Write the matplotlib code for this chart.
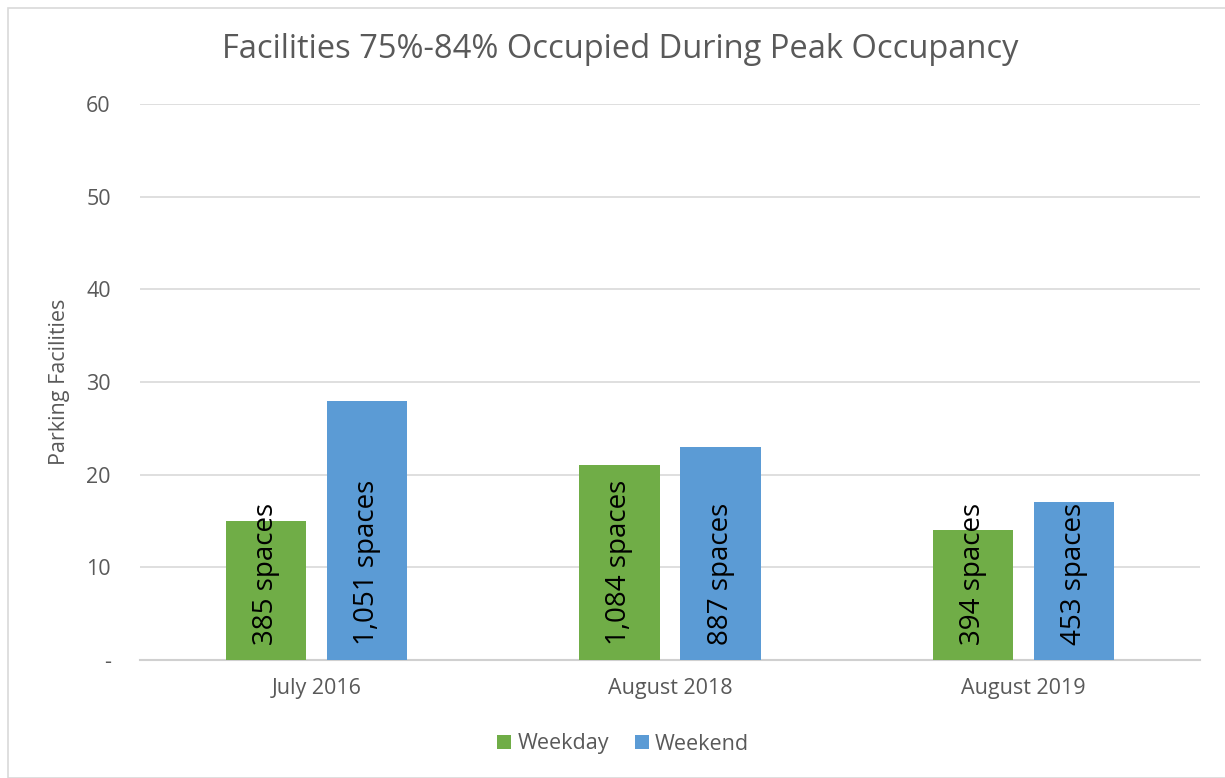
import matplotlib
matplotlib.use("Agg")
import matplotlib.pyplot as plt
import numpy as np
from matplotlib.patches import Rectangle

categories = ["July 2016", "August 2018", "August 2019"]
weekday = [15, 21, 14]
weekend = [28, 23, 17]
weekday_labels = ["385 spaces", "1,084 spaces", "394 spaces"]
weekend_labels = ["1,051 spaces", "887 spaces", "453 spaces"]
yticks = [0, 10, 20, 30, 40, 50, 60]
ytick_labels = ["-", "10", "20", "30", "40", "50", "60"]

plt.rcParams['font.family'] = ['Open Sans', 'DejaVu Sans']
gray = "#595959"
green = "#70AD47"
blue = "#5B9BD5"

fig = plt.figure(figsize=(12.25, 7.78), dpi=100)
ax = fig.add_axes([140/1225, 1-660/778, 1060/1225, (660-104)/778])

x = np.arange(len(categories))
w = 0.227
off = 0.143
b1 = ax.bar(x - off, weekday, w, color=green, label="Weekday", zorder=3)
b2 = ax.bar(x + off, weekend, w, color=blue, label="Weekend", zorder=3)

for xi, lab in zip(x - off, weekday_labels):
    ax.text(xi, 1.6, lab, rotation=90, ha="center", va="bottom", fontsize=20, color="black", zorder=4)
for xi, lab in zip(x + off, weekend_labels):
    ax.text(xi, 1.6, lab, rotation=90, ha="center", va="bottom", fontsize=20, color="black", zorder=4)

ax.set_xlim(-0.5, 2.5)
ax.set_ylim(0, 60)
ax.set_yticks(yticks)
ax.set_yticklabels(ytick_labels)
ax.set_xticks(x)
ax.set_xticklabels(categories)
ax.tick_params(axis="both", length=0, colors=gray, labelsize=15.5)
ax.tick_params(axis="y", pad=21)
ax.tick_params(axis="x", pad=13)
ax.grid(axis="y", color="#d9d9d9", linewidth=1.2, zorder=0)
for s in ["top", "right", "left"]:
    ax.spines[s].set_visible(False)
ax.spines["bottom"].set_color("#d0d0d0")
ax.spines["bottom"].set_linewidth(1.5)
ax.set_ylabel("Parking Facilities", color=gray, fontsize=15.5, labelpad=12)

fig.text(620/1225, 1-50/778, "Facilities 75%-84% Occupied During Peak Occupancy",
         ha="center", va="center", fontsize=23.5, color=gray)

leg = fig.legend(handles=[b1, b2], labels=["Weekday", "Weekend"], loc="center",
                 bbox_to_anchor=(623/1225, 1-744/778), ncol=2, frameon=False,
                 fontsize=15.5, handlelength=0.65, handleheight=0.65, handletextpad=0.3,
                 columnspacing=1.2)
for t in leg.get_texts():
    t.set_color(gray)

fig.patches.append(Rectangle((8/1225, 0), 1.2, 1-8/778, transform=fig.transFigure,
                             fill=False, edgecolor="#d9d9d9", linewidth=1.2))

fig.savefig("out.png", dpi=100)
